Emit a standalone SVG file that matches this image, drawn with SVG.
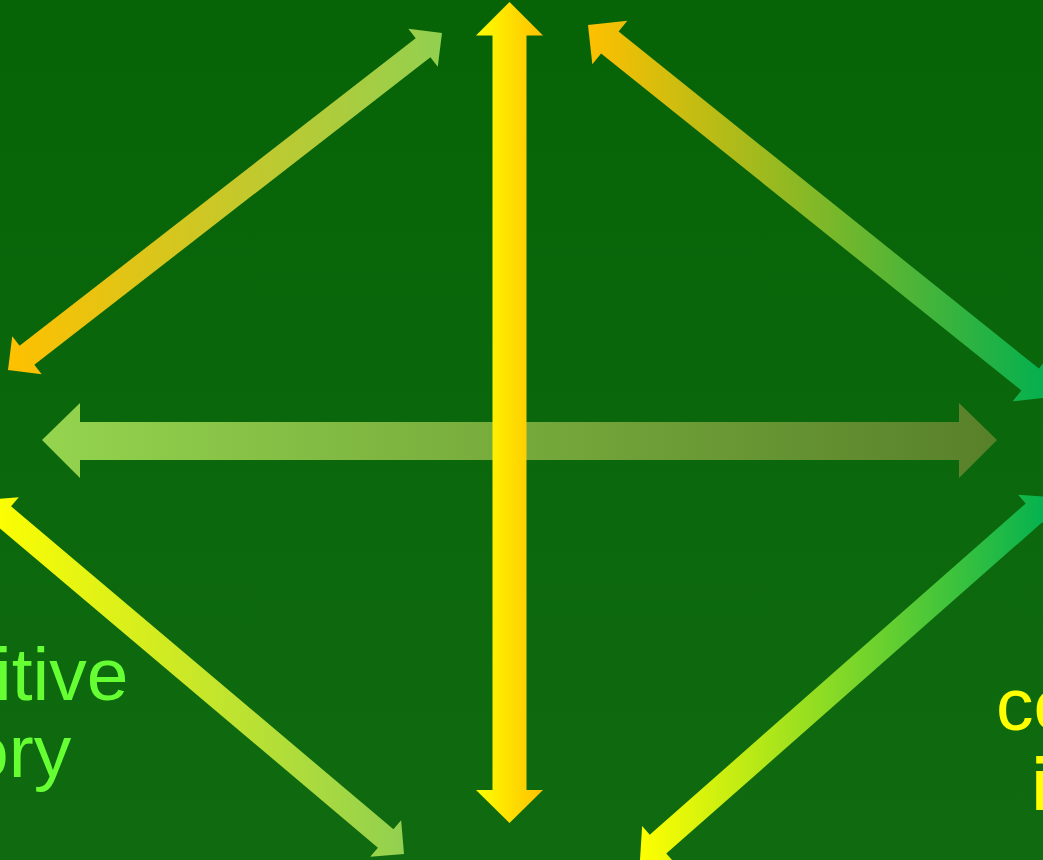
<svg xmlns="http://www.w3.org/2000/svg" width="1043" height="860" viewBox="0 0 1043 860">
  <defs>
    <linearGradient id="bg" x1="0" y1="0" x2="0" y2="1">
      <stop offset="0" stop-color="#066306"/>
      <stop offset="1" stop-color="#106b10"/>
    </linearGradient>
    <linearGradient id="gTL" x1="0" y1="0" x2="1" y2="0">
      <stop offset="0" stop-color="#ffc000"/>
      <stop offset="1" stop-color="#92d050"/>
    </linearGradient>
    <linearGradient id="gTR" x1="0" y1="0" x2="1" y2="0">
      <stop offset="0" stop-color="#ffc000"/>
      <stop offset="1" stop-color="#00b050"/>
    </linearGradient>
    <linearGradient id="gBL" x1="0" y1="0" x2="1" y2="0">
      <stop offset="0" stop-color="#ffff00"/>
      <stop offset="1" stop-color="#92d050"/>
    </linearGradient>
    <linearGradient id="gBR" x1="0" y1="0" x2="1" y2="0">
      <stop offset="0" stop-color="#ffff00"/>
      <stop offset="1" stop-color="#00b050"/>
    </linearGradient>
    <linearGradient id="gV" x1="0" y1="0" x2="1" y2="0">
      <stop offset="0" stop-color="#ffff00"/>
      <stop offset="1" stop-color="#ffc000"/>
    </linearGradient>
    <linearGradient id="gH" x1="0" y1="0" x2="1" y2="0">
      <stop offset="0" stop-color="#94d44e"/>
      <stop offset="1" stop-color="#58802a"/>
    </linearGradient>
  </defs>
  <style>
    .lbl { font-family: "Liberation Sans", Arial, sans-serif; font-size: 75px; }
    .green { fill: #66ff33; }
    .yellow { fill: #ffff00; }
    .bold { font-weight: bold; }
  </style>
  <rect x="0" y="0" width="1043" height="860" fill="url(#bg)"/>

  <g id="connectors">
    <polygon id="arrow-h" fill="url(#gH)" points="42,440 80,403 80,422 959,422 959,403 997,440 959,478 959,460 80,460 80,478"/>
    <polygon id="arrow-v" fill="url(#gV)" points="509.5,2 543,35.5 526.5,35.5 526.5,790 543,790 509.5,823 476,790 492.5,790 492.5,35.5 476,35.5"/>
    <polygon id="arrow-tl" fill="url(#gTL)" points="8,370 41.68,374.24 34.32,364.76 430.40,57.20 437.76,66.68 442,33 408.32,28.76 415.68,38.24 19.60,345.80 12.24,336.32"/>
    <polygon id="arrow-tr" fill="url(#gTR)" points="588,25 592.34,64.36 601.09,53.43 1021.39,390.41 1012.64,401.34 1052,397 1047.66,357.64 1038.91,368.57 618.61,31.59 627.36,20.66"/>
    <polygon id="arrow-bl" fill="url(#gBL)" points="-15,500 -12.16,533.82 -4.41,524.66 377.93,847.68 370.18,856.84 404,854 401.16,820.18 393.41,829.34 11.07,506.32 18.82,497.16"/>
    <polygon id="arrow-br" fill="url(#gBR)" points="640,860 673.88,862.14 666.27,853.51 1042.25,522.25 1049.86,530.88 1052,497 1018.12,494.86 1025.73,503.49 649.75,834.75 642.14,826.12"/>
  </g>

  <g id="node-left">
    <text class="lbl green" x="-5" y="700">itive</text>
    <text class="lbl green" x="-33" y="777">ory</text>
  </g>
  <g id="node-right">
    <text class="lbl yellow" x="996" y="730">co</text>
    <text class="lbl yellow bold" x="1031" y="810">i</text>
  </g>
</svg>
